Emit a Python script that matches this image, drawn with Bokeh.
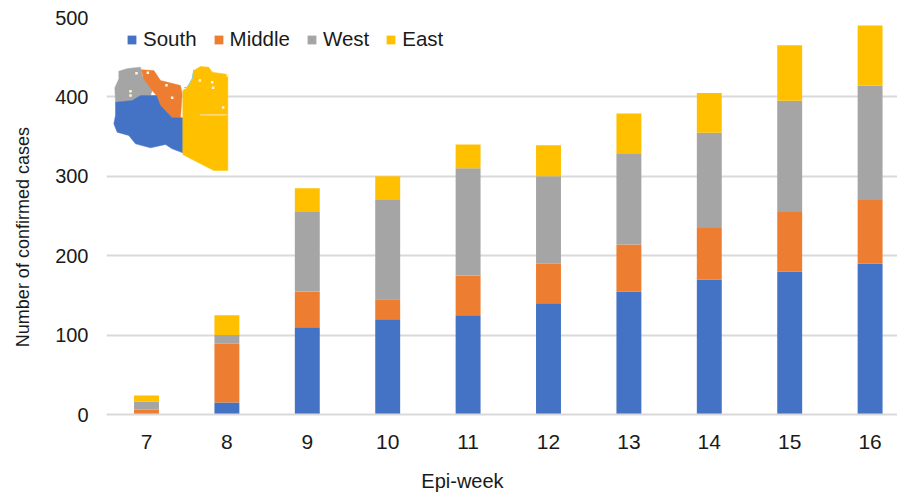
from math import pi

from bokeh.embed import file_html
from bokeh.models import (ColumnDataSource, FixedTicker, Legend, LegendItem,
                          LinearAxis, Range1d)
from bokeh.plotting import figure
from bokeh.resources import INLINE

# Weekly confirmed cases by region
weeks = [7, 8, 9, 10, 11, 12, 13, 14, 15, 16]
south = [0, 15, 110, 120, 125, 140, 155, 170, 180, 190]
middle = [6, 74, 45, 25, 50, 50, 59, 65, 75, 80]
west = [10, 11, 100, 125, 135, 110, 115, 120, 140, 144]
east = [8, 25, 30, 30, 30, 39, 50, 50, 70, 76]
regions = ["South", "Middle", "West", "East"]
colors = ["#4472C4", "#ED7D31", "#A5A5A5", "#FFC000"]
y_ticks = [0, 100, 200, 300, 400, 500]

# Inset map outlines, in the inset's own coordinate system
map_west_x = [85, 112, 150, 155, 185, 180, 150, 125, 75, 73, 85]
map_west_y = [212, 204, 200, 225, 270, 285, 285, 300, 305, 262, 235]
map_middle_x = [152, 190, 210, 270, 275, 270, 245, 210, 198, 185, 160]
map_middle_y = [208, 210, 240, 255, 280, 352, 352, 315, 285, 270, 235]
map_south_x = [75, 125, 150, 180, 198, 210, 245, 277, 277, 245, 225, 180, 135, 115, 80, 70, 75]
map_south_y = [305, 300, 285, 285, 285, 315, 352, 352, 457, 445, 432, 442, 430, 405, 395, 370, 345]
map_east_x = [310, 330, 355, 365, 412, 412, 370, 330, 277, 277, 290, 305]
map_east_y = [210, 198, 200, 215, 222, 510, 510, 490, 462, 270, 262, 235]
map_speck_x = [120, 120, 138, 172, 228, 245, 328, 365, 368, 398, 412]
map_speck_y = [272, 285, 218, 217, 254, 292, 240, 245, 262, 321, 224]
map_stripe_x = [328, 410]
map_stripe_y = [343, 343]
map_coast_x = [280, 290, 305, 310]
map_coast_y = [262, 260, 235, 208]

font = "Liberation Sans"
ink = "#1a1a1a"
grid = "#d9d9d9"

p = figure(width=897, height=494, output_backend="svg", toolbar_location=None,
           x_range=Range1d(7 - 40 / 80.4, 7 + 751 / 80.4), y_range=Range1d(0, 500),
           min_border_left=106, min_border_right=0, min_border_top=17, min_border_bottom=80,
           x_axis_location=None, y_axis_location=None, outline_line_color=None,
           background_fill_color="white", border_fill_color="white")

# Secondary ranges for placing the inset map over the bars' frame
p.extra_x_ranges["inset"] = Range1d(48, 2421)
p.extra_y_ranges["inset"] = Range1d(1242, 51)

xaxis = LinearAxis(ticker=FixedTicker(ticks=weeks), major_label_text_font=font,
                   major_label_text_font_size="21px", major_label_text_color=ink,
                   major_tick_line_color=None, minor_tick_line_color=None,
                   axis_line_color=grid, axis_line_width=2, major_label_standoff=14)
yaxis = LinearAxis(ticker=FixedTicker(ticks=y_ticks), major_label_text_font=font,
                   major_label_text_font_size="20px", major_label_text_color=ink,
                   major_tick_line_color=None, minor_tick_line_color=None,
                   axis_line_color=None, major_label_standoff=12)
p.add_layout(xaxis, "below")
p.add_layout(yaxis, "left")

# Axis titles sit off-centre, so each is a single labelled tick on an outer axis
x_title_at = 10.93
y_title_at = 362
x_title = LinearAxis(ticker=FixedTicker(ticks=[x_title_at]),
                     major_label_overrides={x_title_at: "Epi-week"},
                     major_label_text_font=font, major_label_text_font_size="20px",
                     major_label_text_color=ink, major_tick_line_color=None,
                     minor_tick_line_color=None, axis_line_color=None, major_label_standoff=12)
y_title = LinearAxis(ticker=FixedTicker(ticks=[y_title_at]),
                     major_label_overrides={y_title_at: "Number of confirmed cases"},
                     major_label_orientation=pi / 2,
                     major_label_text_font=font, major_label_text_font_size="18px",
                     major_label_text_color=ink, major_tick_line_color=None,
                     minor_tick_line_color=None, axis_line_color=None, major_label_standoff=23)
p.add_layout(x_title, "below")
p.add_layout(y_title, "left")

p.xgrid.visible = False
p.ygrid.ticker = FixedTicker(ticks=y_ticks)
p.ygrid.grid_line_color = grid
p.ygrid.grid_line_width = 2

source = ColumnDataSource(dict(week=weeks, South=south, Middle=middle, West=west, East=east))
bars = p.vbar_stack(regions, x="week", width=0.31, color=colors, line_color=None, source=source)

# Inset map of the four regions
for xs, ys, c in [(map_west_x, map_west_y, colors[2]), (map_middle_x, map_middle_y, colors[1]),
                  (map_south_x, map_south_y, colors[0]), (map_east_x, map_east_y, colors[3])]:
    p.patch(xs, ys, fill_color=c, line_color=c, line_width=0.5,
            x_range_name="inset", y_range_name="inset")
p.line(map_coast_x, map_coast_y, line_color="#7fd0e8", line_width=1,
       x_range_name="inset", y_range_name="inset")
p.scatter(map_speck_x, map_speck_y, marker="square", size=2.5, color="#fff4e0", line_color=None,
          x_range_name="inset", y_range_name="inset")
p.line(map_stripe_x, map_stripe_y, line_color="#ffe0a0", line_width=1.2,
       x_range_name="inset", y_range_name="inset")

legend = Legend(items=[LegendItem(label=n, renderers=[b]) for n, b in zip(regions, bars)],
                orientation="horizontal", location=(20, 417 - 54),
                background_fill_alpha=0, border_line_color=None,
                glyph_width=11, glyph_height=11, label_standoff=6, spacing=16,
                label_text_font=font, label_text_font_size="20.5px", label_text_color=ink,
                margin=0, padding=8)
p.add_layout(legend, "center")

open("out.html", "w").write(file_html(p, INLINE))
